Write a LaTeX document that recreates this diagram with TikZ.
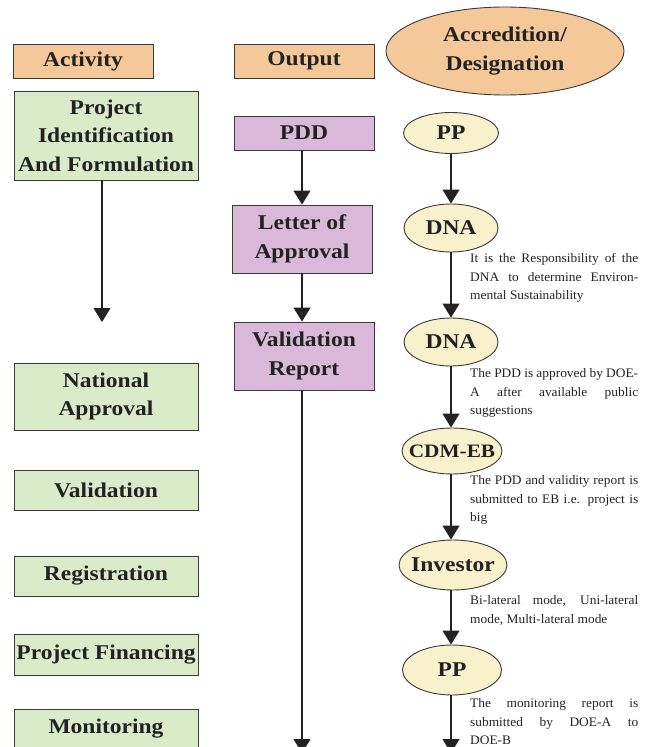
\documentclass[tikz,border=0pt]{standalone}
\usepackage{fontspec}
\setmainfont{Liberation Serif}[FakeStretch=1.12]
\newfontfamily\notefont{Liberation Serif}[FakeStretch=1.03]
\usetikzlibrary{arrows.meta,shapes.geometric}
\definecolor{hdr}{HTML}{F5C89A}
\definecolor{grn}{HTML}{DAEBC9}
\definecolor{pur}{HTML}{D9B8D9}
\definecolor{crm}{HTML}{F7F2CC}
\definecolor{edgec}{HTML}{3A3A3A}
\definecolor{txt}{HTML}{222222}
\tikzset{
  box/.style={draw=edgec, line width=0.9pt, inner sep=0pt, align=center,
    font=\bfseries\fontsize{21}{28.5}\selectfont, text=txt},
  hbox/.style={box, fill=hdr, minimum width=140pt, minimum height=34pt},
  gbox/.style={box, fill=grn, minimum width=184pt},
  pbox/.style={box, fill=pur, minimum width=140pt},
  ell/.style={ellipse, draw=edgec, line width=0.9pt, fill=crm, inner xsep=-20pt, inner ysep=-5pt,
    font=\bfseries\fontsize{21}{24}\selectfont, text=txt},
  arr/.style={draw=txt, line width=1.1pt, -{Triangle[width=17pt,length=14pt]}},
  note/.style={anchor=north west, inner sep=0pt, text width=168pt, align=justify,
    font=\notefont\fontsize{13}{18.8}\selectfont, text=txt}
}
\begin{document}
\begin{tikzpicture}[x=1pt,y=-1pt]
\useasboundingbox (0,0) rectangle (651,747);
% headers
\node[hbox] (hact) at (83,61) {\raisebox{-1.5pt}{Activity}};
\node[hbox] (hout) at (304,61) {\raisebox{-1.5pt}{Output}};
\node[ellipse, draw=edgec, line width=0.9pt, fill=hdr, minimum width=238pt, minimum height=88pt,
  inner sep=0pt, align=center, font=\bfseries\fontsize{21}{28.5}\selectfont, text=txt]
  (hacc) at (505,51) {Accredition/\\Designation};
% activity column
\node[gbox, minimum height=89pt] (a1) at (106,135.5) {Project\\Identification\\And Formulation};
\node[gbox, minimum height=67pt] (a2) at (106,396.5) {National\\Approval};
\node[gbox, minimum height=40pt] (a3) at (106,490) {Validation};
\node[gbox, minimum height=40pt] (a4) at (106,576) {\raisebox{-1.5pt}{Registration}};
\node[gbox, minimum height=41pt] (a5) at (106,654.5) {\raisebox{-1.5pt}{Project Financing}};
\node[gbox, minimum height=40pt] (a6) at (106,729) {\raisebox{-1.5pt}{Monitoring}};
\coordinate (e1) at (102,322);
\draw[arr] (e1 |- a1.south) -- (e1);
% output column
\node[pbox, minimum height=34pt] (o1) at (304,133) {PDD};
\node[pbox, minimum height=68pt] (o2) at (302,239) {Letter of\\Approval};
\node[pbox, minimum height=68pt] (o3) at (304,356) {Validation\\Report};
\coordinate (e2) at (302,753);
\draw[arr] (e2 |- o1.south) -- (e2 |- o2.north);
\draw[arr] (e2 |- o2.south) -- (e2 |- o3.north);
\draw[arr] (e2 |- o3.south) -- (e2);
% accreditation column
\node[ell, minimum width=95pt, minimum height=41pt] (p1) at (451,133) {PP};
\node[ell, minimum width=94pt, minimum height=48pt] (d1) at (451,228) {DNA};
\node[ell, minimum width=94pt, minimum height=48pt] (d2) at (451,342) {DNA};
\node[ell, minimum width=100pt, minimum height=46pt, font=\bfseries\fontsize{19}{22}\selectfont] (c1) at (452,451) {CDM-EB};
\node[ell, minimum width=108pt, minimum height=50pt] (i1) at (453,565) {Investor};
\node[ell, minimum width=99pt, minimum height=50pt] (p2) at (452,670) {PP};
\coordinate (e3) at (451,753);
\draw[arr] (p1) -- (d1);
\draw[arr] (d1) -- (d2);
\draw[arr] (d2) -- (d2.south |- c1.north);
\draw[arr] (d2.south |- c1.south) -- (d2.south |- i1.north);
\draw[arr] (d2.south |- i1.south) -- (d2.south |- p2.north);
\draw[arr] (d2.south |- p2.south) -- (e3);
% notes
\node[note] (n1) at (470,253) {It is the Responsibility of the\linebreak DNA to determine Environ-\linebreak mental Sustainability};
\node[note] (n2) at (470,368) {The PDD is approved by DOE-\linebreak A after available public\linebreak suggestions};
\node[note] (n3) at (470,475) {The PDD and validity report is\linebreak submitted to EB i.e. project is\linebreak big};
\node[note] (n4) at (470,595) {Bi-lateral mode, Uni-lateral\linebreak mode, Multi-lateral mode};
\node[note] (n5) at (470,698) {The monitoring report is\linebreak submitted by DOE-A to\linebreak DOE-B};
\end{tikzpicture}
\end{document}
